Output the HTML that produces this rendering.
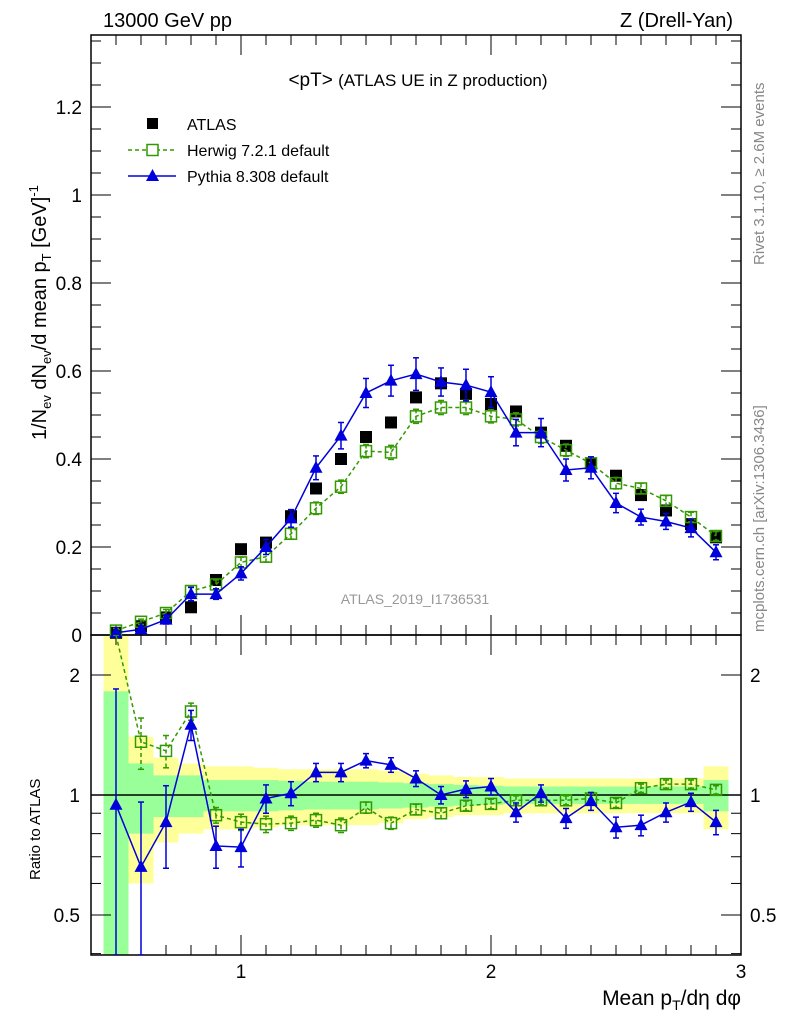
<!DOCTYPE html>
<html><head><meta charset="utf-8"><style>
html,body{margin:0;padding:0;background:#fff;}
svg{display:block;font-family:"Liberation Sans",sans-serif;}
</style></head><body>
<svg id="c" width="786" height="1024" viewBox="0 0 786 1024" xmlns="http://www.w3.org/2000/svg">
<text x="103" y="27" font-size="20">13000 GeV pp</text>
<text x="733" y="27" font-size="20" text-anchor="end">Z (Drell-Yan)</text>
<text x="418" y="86" font-size="19" text-anchor="middle">&lt;pT&gt; <tspan font-size="17">(ATLAS UE in Z production)</tspan></text>
<text x="415" y="604" font-size="14" fill="#999" text-anchor="middle">ATLAS_2019_I1736531</text>
<text transform="translate(764,265) rotate(-90)" font-size="15" fill="#888">Rivet 3.1.10, ≥ 2.6M events</text>
<text transform="translate(764,632) rotate(-90)" font-size="15" fill="#888">mcplots.cern.ch [arXiv:1306.3436]</text>
<text transform="translate(46,440) rotate(-90)" font-size="20">1/N<tspan font-size="13" dy="5">ev</tspan><tspan dy="-5"> dN</tspan><tspan font-size="13" dy="5">ev</tspan><tspan dy="-5">/d mean p</tspan><tspan font-size="13" dy="5">T</tspan><tspan dy="-5"> [GeV]</tspan><tspan font-size="13" dy="-8">-1</tspan></text>
<text transform="translate(40,880) rotate(-90)" font-size="15">Ratio to ATLAS</text>
<text x="741" y="1005" font-size="21" text-anchor="end">Mean p<tspan font-size="14" dy="5">T</tspan><tspan dy="-5">/dη dφ</tspan></text>
<g id="legend">
<rect x="147" y="118" width="11" height="11" fill="#000"/>
<text x="187" y="130" font-size="16">ATLAS</text>
<line x1="128" y1="150" x2="176" y2="150" stroke="#339900" stroke-width="1.5" stroke-dasharray="4,3"/>
<rect x="147" y="144.5" width="11" height="11" fill="#fff" stroke="#339900" stroke-width="1.5"/>
<text x="187" y="156" font-size="16">Herwig 7.2.1 default</text>
<line x1="128" y1="176" x2="176" y2="176" stroke="#0000dd" stroke-width="1.5"/>
<polygon points="152.5,169 159,181 146,181" fill="#0000dd"/>
<text x="187" y="182" font-size="16">Pythia 8.308 default</text>
</g>
</svg>
<script>
const xVals=[0.5,0.6,0.7,0.8,0.9,1.0,1.1,1.2,1.3,1.4,1.5,1.6,1.7,1.8,1.9,2.0,2.1,2.2,2.3,2.4,2.5,2.6,2.7,2.8,2.9];
const atlasY=[0.005,0.02,0.04,0.063,0.125,0.195,0.21,0.27,0.333,0.40,0.45,0.483,0.54,0.572,0.548,0.525,0.508,0.46,0.43,0.39,0.362,0.318,0.283,0.252,0.222];
const herwigY=[0.01,0.03,0.05,0.10,0.115,0.165,0.178,0.23,0.288,0.337,0.418,0.415,0.497,0.517,0.517,0.497,0.49,0.45,0.42,0.39,0.345,0.333,0.305,0.268,0.225];
const herwigErr=[0.005,0.006,0.008,0.01,0.01,0.012,0.012,0.012,0.014,0.015,0.015,0.016,0.016,0.016,0.016,0.015,0.015,0.014,0.014,0.013,0.013,0.012,0.012,0.011,0.01];
const pythiaY=[0.005,0.013,0.035,0.093,0.093,0.14,0.20,0.265,0.38,0.453,0.55,0.578,0.593,0.575,0.568,0.552,0.46,0.46,0.375,0.38,0.3,0.268,0.258,0.243,0.188];
const pythiaErr=[0.005,0.007,0.01,0.015,0.012,0.015,0.017,0.02,0.027,0.03,0.033,0.035,0.037,0.032,0.036,0.035,0.03,0.032,0.025,0.025,0.022,0.018,0.018,0.02,0.017];
const herwigRatio=[3.5,1.36,1.29,1.62,0.89,0.855,0.845,0.85,0.865,0.84,0.93,0.85,0.92,0.9,0.94,0.95,0.97,0.97,0.97,0.98,0.955,1.04,1.065,1.065,1.03];
const herwigRatioErr=[0.3,0.2,0.12,0.08,0.04,0.04,0.04,0.035,0.035,0.035,0.03,0.03,0.028,0.028,0.026,0.026,0.025,0.025,0.025,0.025,0.025,0.025,0.025,0.025,0.025];
const pythiaRatio=[0.945,0.66,0.855,1.5,0.745,0.74,0.98,1.01,1.14,1.14,1.22,1.19,1.1,1.0,1.035,1.05,0.905,1.01,0.875,0.965,0.83,0.84,0.905,0.96,0.855];
const pythiaRatioErr=[0.9,0.3,0.2,0.13,0.09,0.08,0.08,0.07,0.06,0.06,0.05,0.05,0.05,0.05,0.05,0.05,0.05,0.05,0.05,0.05,0.05,0.05,0.05,0.05,0.06];
const bandYellow=[2.0,0.4,0.24,0.2,0.18,0.18,0.17,0.16,0.16,0.16,0.16,0.15,0.13,0.12,0.11,0.11,0.1,0.1,0.1,0.1,0.1,0.1,0.1,0.1,0.18];
const bandGreen=[0.82,0.2,0.12,0.12,0.09,0.09,0.09,0.085,0.08,0.08,0.08,0.075,0.07,0.065,0.06,0.055,0.05,0.05,0.05,0.05,0.05,0.05,0.05,0.05,0.09];
const mainTicks=[0,0.2,0.4,0.6,0.8,1,1.2];
const mainTickLabels=["0","0.2","0.4","0.6","0.8","1","1.2"];
const xTicks=[1,2,3];
const xTickLabels=["1","2","3"];
const ratioTicks=[0.5,1,2];
const ratioTickLabels=["0.5","1","2"];

const NS="http://www.w3.org/2000/svg";
const svg=document.getElementById('c');
const L=91,R=741,T1=35,B1=635,T2=635,B2=955;
const sx=x=>L+(x-0.4)*250;
const sy=v=>B1-v*440;
const ry=r=>{let y=795-120*Math.log2(Math.max(r,0.01));return Math.max(T2,Math.min(B2,y));};
function el(tag,attrs,parent){const e=document.createElementNS(NS,tag);for(const k in attrs)e.setAttribute(k,attrs[k]);(parent||svg).appendChild(e);return e;}

const defs=el('defs',{});
const clip=el('clipPath',{id:'rc'},defs);el('rect',{x:L,y:T2,width:R-L,height:B2-T2},clip);

const gB=el('g',{});


xVals.forEach((x,i)=>{
  const x0=sx(x-0.05),x1=sx(x+0.05);
  let t=ry(1+bandYellow[i]),b=ry(Math.max(1-bandYellow[i],0.01));
  const y=el('rect',{x:x0,y:t,width:x1-x0,height:b-t,fill:'#ffff99'},gB);
  
  
  t=ry(1+bandGreen[i]);b=ry(Math.max(1-bandGreen[i],0.01));
  const g=el('rect',{x:x0,y:t,width:x1-x0,height:b-t,fill:'#99ff99'},gB);
  
  
});
el('line',{x1:L,y1:ry(1),x2:R,y2:ry(1),stroke:'#000','stroke-width':1.5});

const f1=el('rect',{x:L,y:T1,width:R-L,height:B1-T1,fill:'none',stroke:'#000','stroke-width':1.5});


const f2=el('rect',{x:L,y:T2,width:R-L,height:B2-T2,fill:'none',stroke:'#000','stroke-width':1.5});



for(let k=4;k<=30;k++){const x=sx(k/10);const big=k%10===0;const len=big?20:10;
  el('line',{x1:x,y1:B1,x2:x,y2:B1-len,stroke:'#000'});el('line',{x1:x,y1:T1,x2:x,y2:T1+len,stroke:'#000'});
  el('line',{x1:x,y1:B2,x2:x,y2:B2-len,stroke:'#000'});el('line',{x1:x,y1:T2,x2:x,y2:T2+len,stroke:'#000'});}
xTicks.forEach((v,i)=>{const t=el('text',{x:sx(v),y:978,'font-size':19,'text-anchor':'middle'});t.textContent=xTickLabels[i];
  
  });
for(let k=0;k<=27;k++){const v=k*0.05;const y=sy(v);if(y<T1)break;const big=k%4===0;const len=big?20:10;
  el('line',{x1:L,y1:y,x2:L+len,y2:y,stroke:'#000'});el('line',{x1:R,y1:y,x2:R-len,y2:y,stroke:'#000'});}
mainTicks.forEach((v,i)=>{const t=el('text',{x:82,y:sy(v)+7,'font-size':19,'text-anchor':'end'});t.textContent=mainTickLabels[i];
  
  });
[0.4,0.5,0.6,0.7,0.8,0.9,1,2].forEach(v=>{const y=ry(v);const big=(v===0.5||v===1||v===2);const len=big?20:10;
  el('line',{x1:L,y1:y,x2:L+len,y2:y,stroke:'#000'});el('line',{x1:R,y1:y,x2:R-len,y2:y,stroke:'#000'});});
ratioTicks.forEach((v,i)=>{
  const t=el('text',{x:80,y:ry(v)+7,'font-size':19,'text-anchor':'end'});t.textContent=ratioTickLabels[i];
  
  
  const t2=el('text',{x:750,y:ry(v)+7,'font-size':19});t2.textContent=ratioTickLabels[i];
  
  });

function drawSeries(ys,errs,yf,color,dash,marker,name,clipId){
  const g=el('g',clipId?{'clip-path':'url(#'+clipId+')'}:{});
  
  
  const pts=xVals.map((x,i)=>sx(x)+','+yf(ys[i])).join(' ');
  el('polyline',{points:pts,fill:'none',stroke:color,'stroke-width':1.5,'stroke-dasharray':dash||''},g);
  xVals.forEach((x,i)=>{const cx=sx(x),cy=yf(ys[i]);
    if(errs){const a=yf(ys[i]+errs[i]),b=yf(Math.max(ys[i]-errs[i],0.001));
      el('line',{x1:cx,y1:a,x2:cx,y2:b,stroke:color,'stroke-width':1.5,'stroke-dasharray':dash||''},g);
      el('line',{x1:cx-3,y1:a,x2:cx+3,y2:a,stroke:color,'stroke-width':1.5},g);
      el('line',{x1:cx-3,y1:b,x2:cx+3,y2:b,stroke:color,'stroke-width':1.5},g);}
    if(cy<=T2-1&&yf===ry)return;
    if(yf===ry&&cy<=T2+0.5)return;
    let m;
    if(marker==='sq')m=el('rect',{x:cx-5.5,y:cy-5.5,width:11,height:11,fill:'none',stroke:color,'stroke-width':1.5},g);
    else m=el('polygon',{points:`${cx},${cy-7} ${cx+6.5},${cy+5} ${cx-6.5},${cy+5}`,fill:color},g);
    
    
  });
}
const gA=el('g',{});


xVals.forEach((x,i)=>{const r=el('rect',{x:sx(x)-6,y:sy(atlasY[i])-6,width:12,height:12,fill:'#000'},gA);
  
  });
drawSeries(herwigY,herwigErr,sy,'#339900','4,3','sq','herwig-series');
drawSeries(pythiaY,pythiaErr,sy,'#0000dd','','tri','pythia-series');
drawSeries(herwigRatio,herwigRatioErr,ry,'#339900','4,3','sq','herwig-ratio','rc');
drawSeries(pythiaRatio,pythiaRatioErr,ry,'#0000dd','','tri','pythia-ratio','rc');
</script>
</body></html>
